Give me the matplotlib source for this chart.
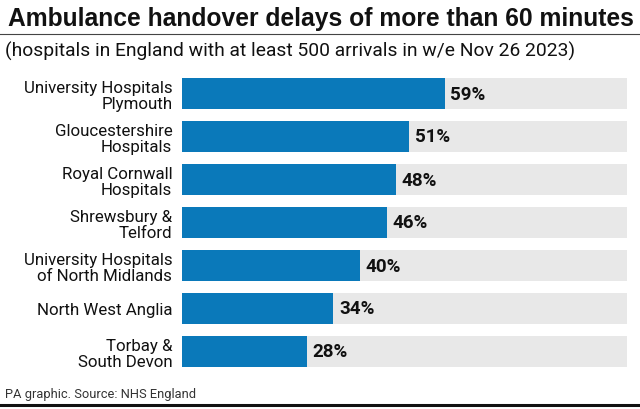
import matplotlib
matplotlib.use("Agg")
import matplotlib.pyplot as plt

# datos
hospitales = [
    "University Hospitals\nPlymouth",
    "Gloucestershire\nHospitals",
    "Royal Cornwall\nHospitals",
    "Shrewsbury &\nTelford",
    "University Hospitals\nof North Midlands",
    "North West Anglia",
    "Torbay &\nSouth Devon",
]
porcentajes = [59, 51, 48, 46, 40, 34, 28]
maximo = 100

titulo = "Ambulance handover delays of more than 60 minutes"
subtitulo = "(hospitals in England with at least 500 arrivals in w/e Nov 26 2023)"
fuente = "PA graphic. Source: NHS England"

azul = "#0a79ba"
gris = "#e8e8e8"

fig = plt.figure(figsize=(6.4, 4.1), dpi=100)
ax = fig.add_axes([182 / 640, 36 / 410, 445 / 640, 301 / 410])

y = list(range(len(hospitales)))
ax.barh(y, [maximo] * len(y), height=0.72, color=gris, zorder=1)
ax.barh(y, porcentajes, height=0.72, color=azul, zorder=2)

for yi, v in zip(y, porcentajes):
    ax.text(v + 1.3, yi, f"{v}%", va="center", ha="left", fontsize=13.5,
            fontweight="bold", family="Roboto", color="#111111")

ax.set_xlim(0, maximo)
ax.set_ylim(len(y) - 0.5, -0.5)
ax.set_yticks(y)
ax.set_yticklabels(hospitales, fontsize=12.2, family="Roboto",
                   linespacing=1.1, color="#111111")
ax.tick_params(axis="y", length=0, pad=7)
ax.set_xticks([])
for s in ax.spines.values():
    s.set_visible(False)

fig.text(8 / 640, 1 - 19 / 410, titulo, fontsize=17.7, fontweight="bold",
         family="Liberation Sans", stretch="condensed", va="center", ha="left",
         color="#111111")
fig.add_artist(plt.Line2D([0, 1], [1 - 35 / 410, 1 - 35 / 410], color="#444444", lw=0.8))
fig.text(5 / 640, 1 - 51 / 410, subtitulo, fontsize=13.9, family="Roboto",
         va="center", ha="left", color="#111111")
fig.text(5 / 640, 1 - 395 / 410, fuente, fontsize=9.3, family="Roboto",
         va="center", ha="left", color="#333333")
fig.add_artist(plt.Line2D([0, 1], [1 - 406 / 410, 1 - 406 / 410], color="#111111", lw=2.2))

fig.savefig("out.png", dpi=100)
